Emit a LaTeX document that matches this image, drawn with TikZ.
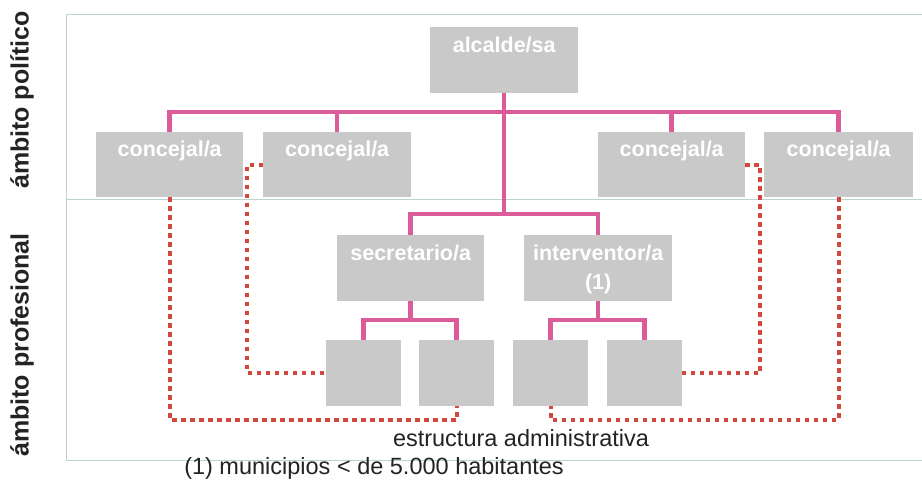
\documentclass[tikz,border=0pt]{standalone}
\usepackage{fontspec}
\setmainfont{Liberation Sans}
\usetikzlibrary{calc}
\definecolor{boxgray}{RGB}{201,201,201}
\definecolor{pinkc}{RGB}{219,92,152}
\definecolor{redc}{RGB}{210,72,62}
\definecolor{framec}{RGB}{185,212,204}
\definecolor{txtc}{RGB}{35,35,35}
\begin{document}
\begin{tikzpicture}[x=1pt,y=-1pt,
  gbox/.style={fill=boxgray, draw=none, inner sep=0pt, anchor=north west},
  btxt/.style={text=white, font=\bfseries\fontsize{21.5}{24}\selectfont, inner sep=0pt, anchor=base},
  side/.style={text=txtc, font=\bfseries\fontsize{25}{28}\selectfont, inner sep=0pt},
  lab/.style={text=txtc, font=\fontsize{23.5}{26}\selectfont, inner sep=0pt, anchor=base},
  pk/.style={draw=pinkc, line width=4.5pt},
  rd/.style={draw=redc, line width=4pt, dash pattern=on 4.5pt off 4.5pt},
  fr/.style={draw=framec, line width=1pt}]
\useasboundingbox (0,0) rectangle (922,484);
\fill[white] (0,0) rectangle (922,484);
% frame
\draw[fr] (922,15) -- (66,15) -- (66,460) -- (922,460);
\draw[fr] (66,200) -- (922,200);
% boxes
\node[gbox, minimum width=148pt, minimum height=66pt] (alc) at (430,27) {};
\node[gbox, minimum width=147pt, minimum height=65pt] (c1) at (96,132) {};
\node[gbox, minimum width=148pt, minimum height=65pt] (c2) at (263,132) {};
\node[gbox, minimum width=147pt, minimum height=65pt] (c3) at (598,132) {};
\node[gbox, minimum width=149pt, minimum height=65pt] (c4) at (764,132) {};
\node[gbox, minimum width=147pt, minimum height=66pt] (sec) at (337,235) {};
\node[gbox, minimum width=148pt, minimum height=66pt] (int) at (524,235) {};
\node[gbox, minimum width=75pt, minimum height=66pt] (A) at (326,340) {};
\node[gbox, minimum width=75pt, minimum height=66pt] (B) at (419,340) {};
\node[gbox, minimum width=75pt, minimum height=66pt] (C) at (513,340) {};
\node[gbox, minimum width=75pt, minimum height=66pt] (D) at (607,340) {};
% box texts
\node[btxt] (talc) at ([yshift=-26pt]alc.north) {alcalde/sa};
\node[btxt] (tc1) at ([yshift=-25pt]c1.north) {concejal/a};
\node[btxt] (tc2) at ([yshift=-25pt]c2.north) {concejal/a};
\node[btxt] (tc3) at ([yshift=-25pt]c3.north) {concejal/a};
\node[btxt] (tc4) at ([yshift=-25pt]c4.north) {concejal/a};
\node[btxt] (tsec) at ([yshift=-25pt]sec.north) {secretario/a};
\node[btxt] (tint) at ([yshift=-25pt]int.north) {interventor/a};
\node[btxt] (tint2) at ([yshift=-55pt]int.north) {(1)};
% helper coordinates
\coordinate (bus) at (0,112);
\coordinate (mid) at (0,214);
\coordinate (sub) at (0,320);
\coordinate (low) at (0,420);
\coordinate (lx) at (247,0);
\coordinate (rx) at (760,0);
% pink hierarchy
\draw[pk] (c1.north) |- (c4.north |- bus) -- (c4.north);
\draw[pk] (c2.north) -- (c2.north |- bus);
\draw[pk] (c3.north) -- (c3.north |- bus);
\draw[pk] (alc.south) -- (alc.south |- mid);
\draw[pk] (sec.north) |- (int.north |- mid) -- (int.north);
\draw[pk] (sec.south) -- (sec.south |- sub);
\draw[pk] (A.north) |- (B.north |- sub) -- (B.north);
\draw[pk] (int.south) -- (int.south |- sub);
\draw[pk] (C.north) |- (D.north |- sub) -- (D.north);
% red dotted links
\draw[rd] (c1.south) |- (B.south |- low) -- (B.south);
\draw[rd] (c2.west) -- (c2.west -| lx) |- (A.west);
\draw[rd] (c3.east) -- (c3.east -| rx) |- (D.east);
\draw[rd] (c4.south) |- (C.south |- low) -- (C.south);
% labels
\node[side, rotate=90] (pol) at (22,100) {ámbito político};
\node[side, rotate=90] (prof) at (22,345) {ámbito profesional};
\node[lab] (est) at (521,446) {estructura administrativa};
\node[lab] (note) at (374,474) {(1) municipios < de 5.000 habitantes};
\end{tikzpicture}
\end{document}
